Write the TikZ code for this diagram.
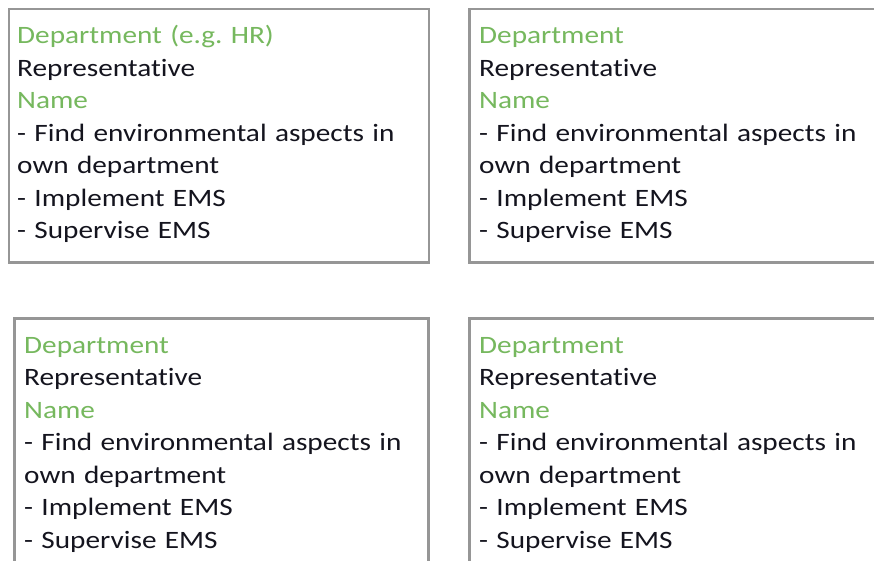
\documentclass[tikz,border=0pt]{standalone}
\usepackage{fontspec}
\setmainfont{Carlito}[FakeStretch=1.17,Ligatures=NoCommon]
\definecolor{deptgreen}{RGB}{118,184,94}
\definecolor{bodyink}{RGB}{20,20,30}
\definecolor{framegray}{RGB}{150,150,150}
\tikzset{
  framebox/.style={draw=framegray, line width=2.6pt, rectangle, inner sep=0pt, anchor=north west},
  boxtext/.style={anchor=north west, inner sep=0pt, align=left, text width=400pt,
    text=bodyink, font=\fontsize{25}{32.5}\selectfont},
}
\newcommand{\deptlines}[1]{\strut\textcolor{deptgreen}{#1}\\
Representative\\
\textcolor{deptgreen}{Name}\\
- Find environmental aspects in\\
own department\\
- Implement EMS\\
- Supervise EMS}
\begin{document}
\begin{tikzpicture}[x=1pt,y=-1pt]
\useasboundingbox (0,0) rectangle (874,560);
\fill[white] (0,0) rectangle (874,560);
% frames
\node[framebox, minimum width=420pt, minimum height=253.5pt] (b1) at (7.5,7.5) {};
\node[framebox, minimum width=440pt, minimum height=253.5pt] (b2) at (468,7.5) {};
\node[framebox, minimum width=414pt, minimum height=280pt] (b3) at (13,317) {};
\node[framebox, minimum width=440pt, minimum height=280pt] (b4) at (468,317) {};
% texts
\node[boxtext] (t1) at (17,20.75) {\deptlines{Department (e.g.\ HR)}};
\node[boxtext] (t2) at (479,20.75) {\deptlines{Department}};
\node[boxtext] (t3) at (24,330.25) {\deptlines{Department}};
\node[boxtext] (t4) at (479,330.25) {\deptlines{Department}};
\end{tikzpicture}
\end{document}
